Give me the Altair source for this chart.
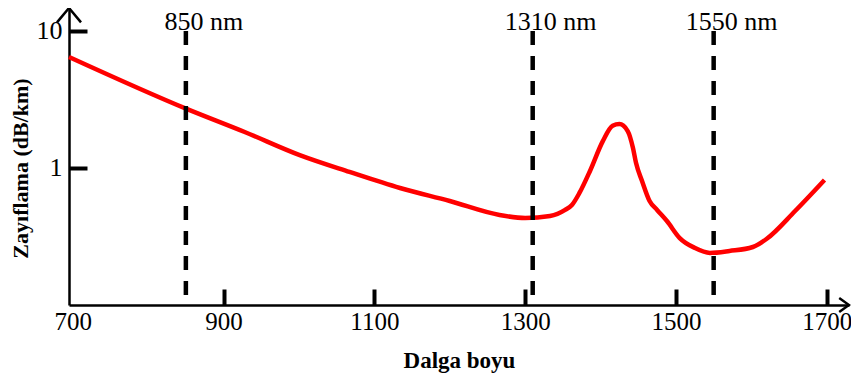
import altair as alt
import pandas as pd

# Attenuation curve (wavelength nm, attenuation dB/km)
wavelength = [695, 851, 928, 1001, 1067, 1134, 1200, 1266, 1300, 1333, 1353, 1362,
              1372, 1386, 1403, 1416, 1425, 1436, 1443, 1447, 1455, 1465, 1475,
              1488, 1505, 1525, 1545, 1571, 1602, 1620, 1658, 1697]
attenuation = [6.46, 2.70, 1.83, 1.24, 0.935, 0.714, 0.574, 0.454, 0.431, 0.446, 0.494, 0.537,
               0.657, 0.951, 1.57, 2.03, 2.09, 1.86, 1.40, 1.09, 0.804, 0.574, 0.494,
               0.410, 0.308, 0.261, 0.240, 0.248, 0.265, 0.303, 0.485, 0.817]

# Marked windows
window_wl = [850, 1310, 1550]
window_label = ["850 nm", "1310 nm", "1550 nm"]
window_top = [10, 10, 10]
window_bottom = [0.118, 0.118, 0.118]

# Axes
x_domain = [695, 1729.5]
y_domain = [0.1, 14.7]
x_label_values = [700, 900, 1100, 1300, 1500, 1700]
x_tick_values = [900, 1100, 1300, 1500, 1700]
y_values = [1, 10]

SERIF = "Liberation Serif"

curve = pd.DataFrame({"wl": wavelength, "att": attenuation})
windows = pd.DataFrame({"wl": window_wl, "label": window_label,
                        "top": window_top, "bottom": window_bottom})
arrow_up = pd.DataFrame({"wl": [x_domain[0]], "att": [y_domain[1]]})
arrow_right = pd.DataFrame({"wl": [x_domain[1]], "att": [y_domain[0]]})

xs = alt.Scale(domain=x_domain, nice=False, zero=False)
ys = alt.Scale(type="log", domain=y_domain, nice=False)

line = alt.Chart(curve).mark_line(
    color="#ff0000", strokeWidth=4.5, interpolate="monotone"
).encode(
    x=alt.X("wl:Q", scale=xs, axis=alt.Axis(
        orient="bottom", values=x_label_values, format="d", ticks=False, grid=False,
        domain=True, domainColor="black", domainWidth=2.5,
        labelFont=SERIF, labelFontSize=25, labelColor="black", labelPadding=4,
        title="Dalga boyu", titleFont=SERIF, titleFontSize=23, titleFontWeight="bold",
        titleColor="black", titlePadding=15)),
    y=alt.Y("att:Q", scale=ys, axis=alt.Axis(
        orient="left", values=y_values, format="d", ticks=False, grid=False,
        domain=True, domainColor="black", domainWidth=2.5,
        labelFont=SERIF, labelFontSize=26, labelColor="black", labelPadding=7,
        title="Zayıflama (dB/km)", titleFont=SERIF, titleFontSize=22,
        titleFontWeight="bold", titleColor="black", titlePadding=4, titleY=160)),
)

rules = alt.Chart(windows).mark_rule(
    color="black", strokeWidth=4.5, strokeDash=[14, 11]
).encode(
    x=alt.X("wl:Q", scale=xs, axis=alt.Axis(
        orient="bottom", offset=-16, values=x_tick_values, tickSize=16, tickWidth=4,
        tickColor="black", labels=False, domain=False, grid=False, title="")),
    y=alt.Y("top:Q", scale=ys, axis=alt.Axis(
        orient="left", offset=-18, values=y_values, tickSize=18, tickWidth=4,
        tickColor="black", labels=False, domain=False, grid=False, title="")),
    y2="bottom:Q",
)

labels = alt.Chart(windows).mark_text(
    font=SERIF, fontSize=26, color="black", align="center",
    baseline="alphabetic", dx=18, dy=-1
).encode(
    x=alt.X("wl:Q", scale=xs, axis=None),
    y=alt.Y("top:Q", scale=ys, axis=None),
    text="label:N",
)

up = alt.Chart(arrow_up).mark_point(
    shape="M-1,1.2L0,0L1,1.2", size=576, filled=False, color="black",
    strokeWidth=2.5, opacity=1
).encode(x=alt.X("wl:Q", scale=xs, axis=None), y=alt.Y("att:Q", scale=ys, axis=None))

right = alt.Chart(arrow_right).mark_point(
    shape="M-1.4,-1L0,0L-1.4,1", size=196, filled=False, color="black",
    strokeWidth=2.5, opacity=1
).encode(x=alt.X("wl:Q", scale=xs, axis=None), y=alt.Y("att:Q", scale=ys, axis=None))

chart = alt.layer(line, rules, labels, up, right).resolve_axis(
    x="independent", y="independent"
).properties(
    width=780, height=297,
    autosize=alt.AutoSizeParams(type="none"),
    padding={"left": 61, "top": 0, "right": 2, "bottom": 74},
).configure_view(stroke="transparent")

chart.save("out.html", embed_options={"renderer": "svg", "actions": False})
